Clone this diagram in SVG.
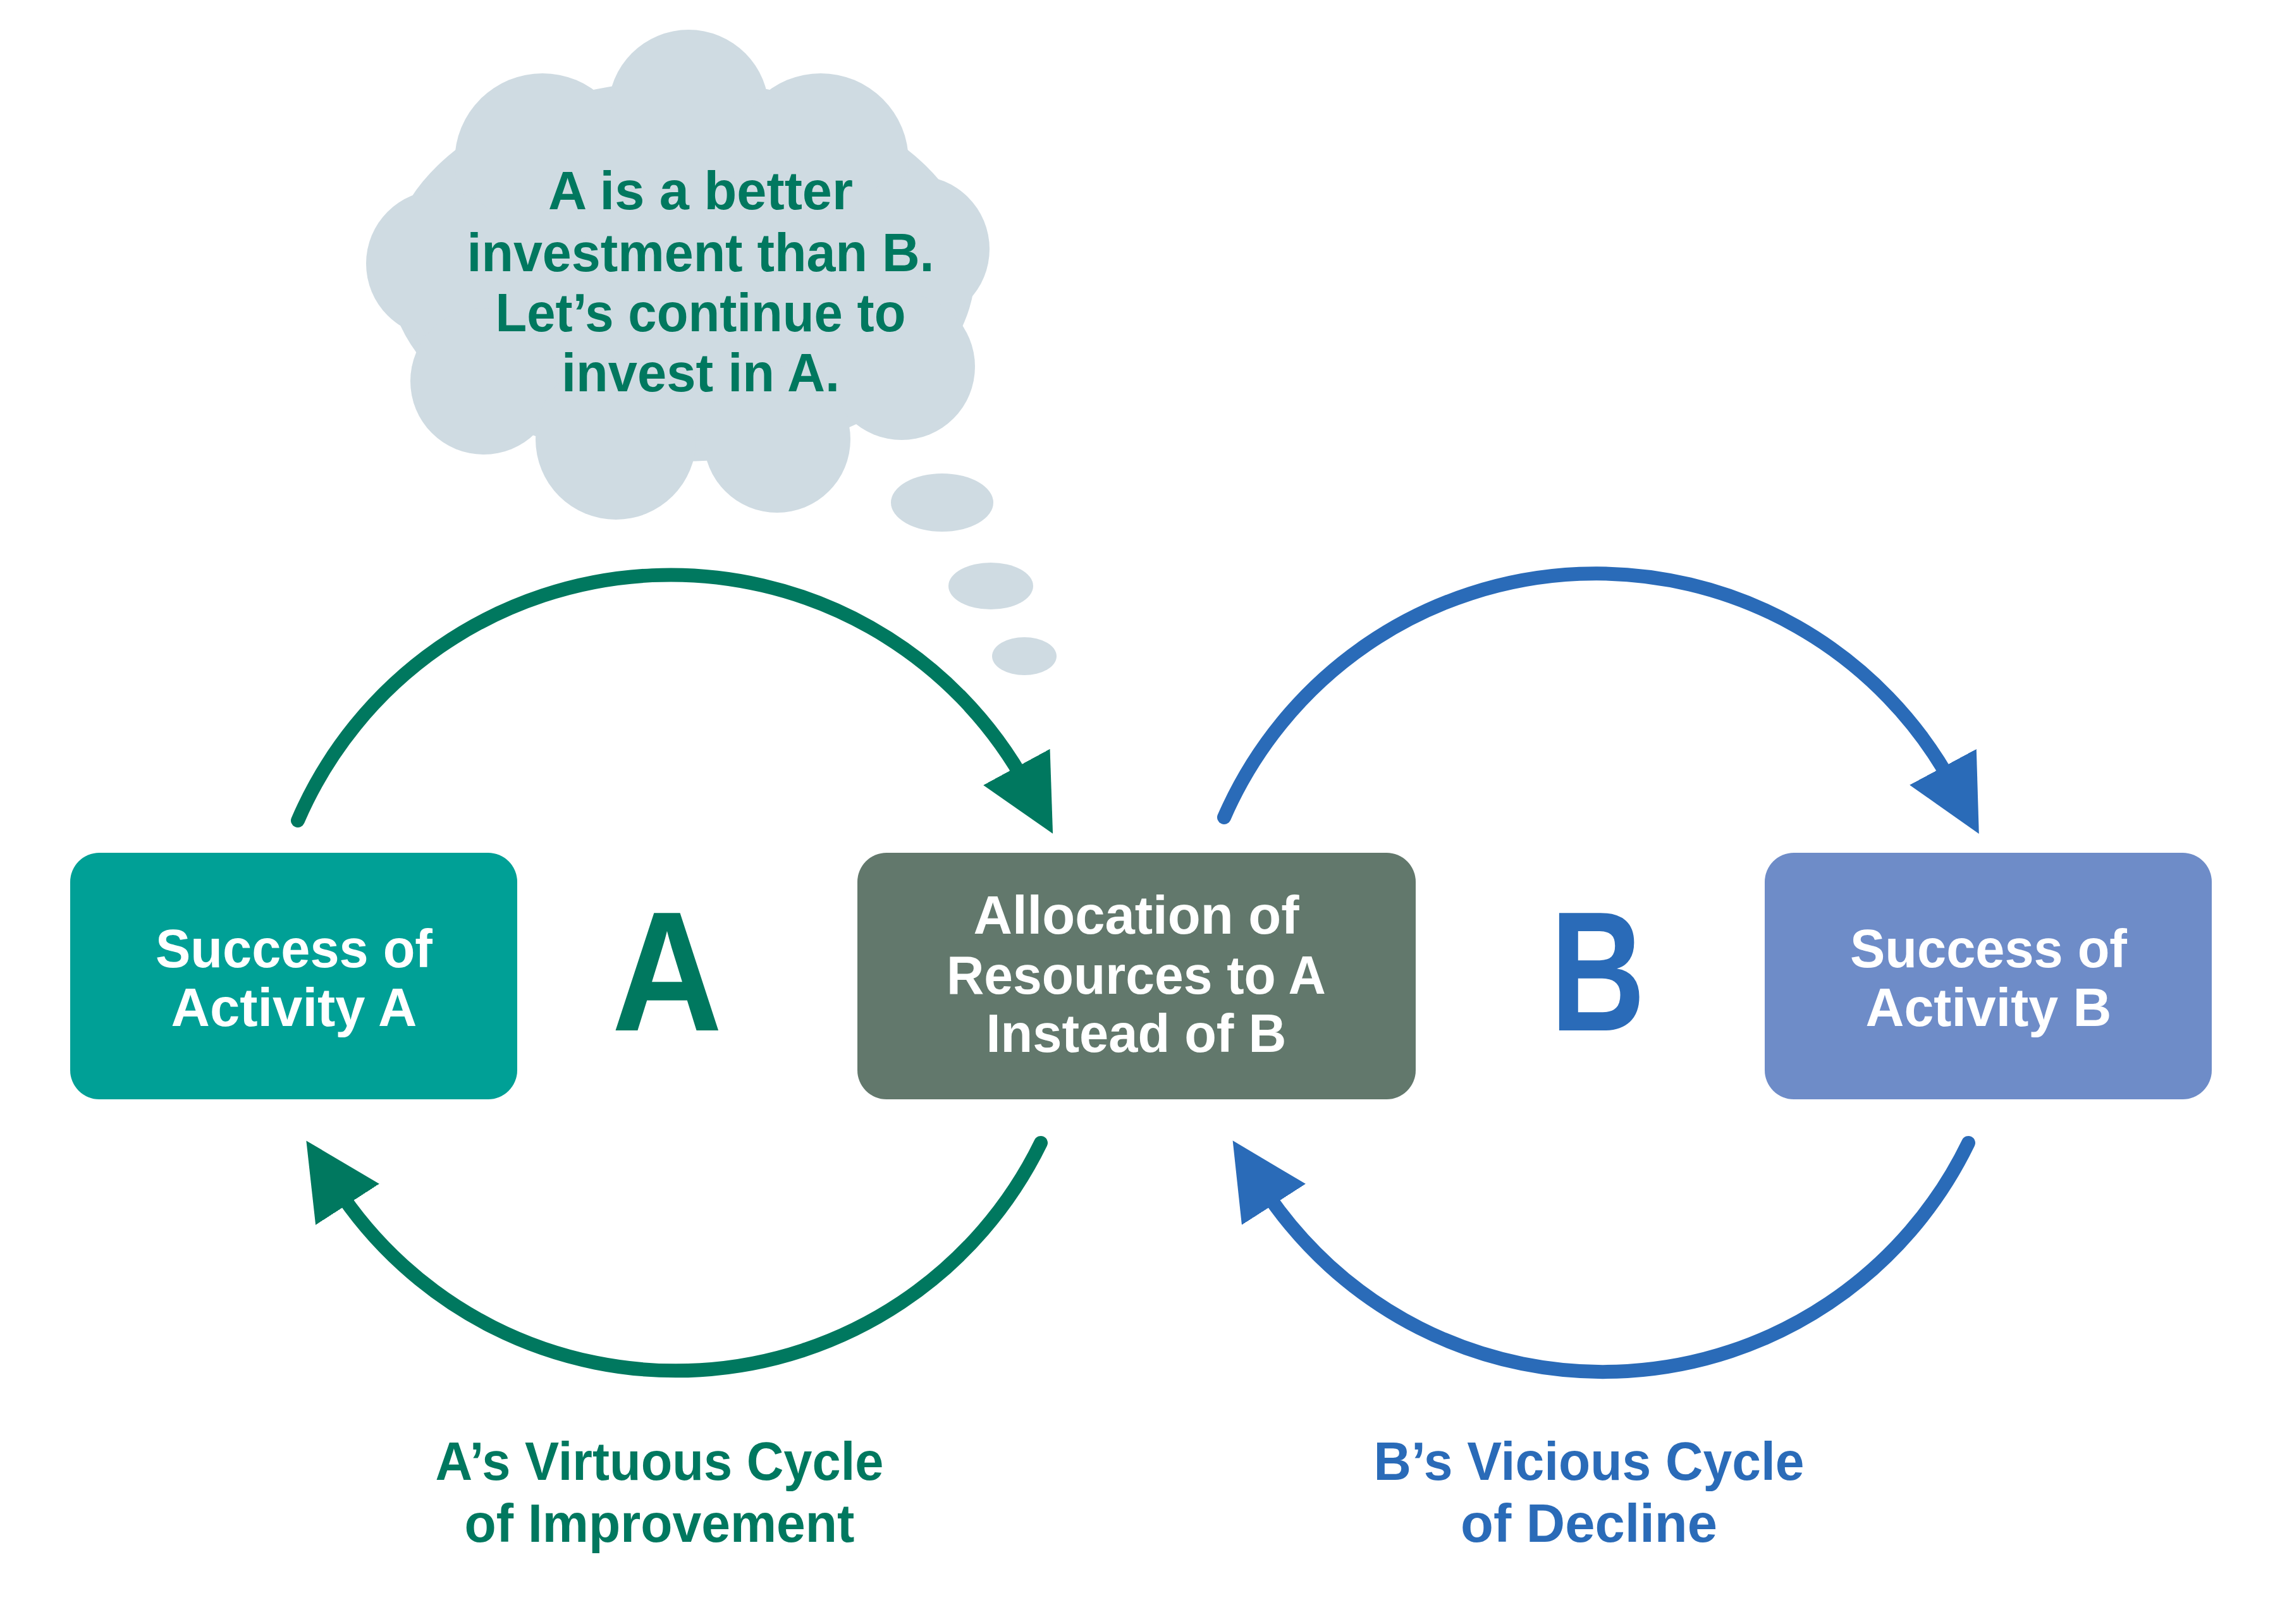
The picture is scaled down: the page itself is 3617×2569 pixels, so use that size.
<svg xmlns="http://www.w3.org/2000/svg" width="3617" height="2569" viewBox="0 0 3617 2569">
<style>
text{font-family:"Liberation Sans",Arial,sans-serif;font-weight:bold;font-size:86px;text-anchor:middle}
.w{fill:#fff}.g{fill:#00785f}.b{fill:#2a6bb8}
.arcG{fill:none;stroke:#00785f;stroke-width:22;stroke-linecap:round;marker-end:url(#mg)}
.arcB{fill:none;stroke:#2a6bb8;stroke-width:22;stroke-linecap:round;marker-end:url(#mb)}
.cloud{fill:#cfdbe2}
</style>
<defs>
<marker id="mg" markerUnits="userSpaceOnUse" markerWidth="120" markerHeight="120" viewBox="0 0 10 10" refX="3" refY="5" orient="auto"><path d="M0,0 L10,5 L0,10 Z" fill="#00785f"/></marker>
<marker id="mb" markerUnits="userSpaceOnUse" markerWidth="120" markerHeight="120" viewBox="0 0 10 10" refX="3" refY="5" orient="auto"><path d="M0,0 L10,5 L0,10 Z" fill="#2a6bb8"/></marker>
</defs>
<rect width="3617" height="2569" fill="#fff"/>
<g id="cloud">
<ellipse class="cloud" cx="1078" cy="429" rx="464" ry="301"/>
<circle class="cloud" cx="1089" cy="174" r="127"/><circle class="cloud" cx="858" cy="255" r="139"/><circle class="cloud" cx="1298" cy="255" r="139"/><circle class="cloud" cx="695" cy="417" r="116"/><circle class="cloud" cx="1449" cy="394" r="116"/><circle class="cloud" cx="765" cy="603" r="116"/><circle class="cloud" cx="1426" cy="580" r="116"/><circle class="cloud" cx="974" cy="695" r="127"/><circle class="cloud" cx="1229" cy="695" r="116"/>
<ellipse class="cloud" cx="1490" cy="795" rx="81" ry="46"/><ellipse class="cloud" cx="1567" cy="927" rx="67" ry="37"/><ellipse class="cloud" cx="1620" cy="1038" rx="51" ry="30"/>
<text class="g" x="1108" y="331" textLength="482" lengthAdjust="spacingAndGlyphs">A is a better</text>
<text class="g" x="1108" y="429" textLength="739" lengthAdjust="spacingAndGlyphs">investment than B.</text>
<text class="g" x="1108" y="524" textLength="649" lengthAdjust="spacingAndGlyphs">Let’s continue to</text>
<text class="g" x="1108" y="619" textLength="440" lengthAdjust="spacingAndGlyphs">invest in A.</text>
</g>
<g id="connectors">
<path class="arcG" d="M471 1298 A642 642 0 0 1 1625 1245"/>
<path class="arcG" d="M1646 1808 A642 642 0 0 1 530 1875"/>
<path class="arcB" d="M1936 1293 A642 642 0 0 1 3090 1245"/>
<path class="arcB" d="M3113 1808 A642 642 0 0 1 1995 1875"/>
</g>
<g id="nodeA">
<rect x="111" y="1349" width="707" height="390" rx="46" fill="#00a096"/>
<text class="w" x="465" y="1530" textLength="438" lengthAdjust="spacingAndGlyphs">Success of</text>
<text class="w" x="465" y="1623" textLength="389" lengthAdjust="spacingAndGlyphs">Activity A</text>
</g>
<g id="nodeMid">
<rect x="1356" y="1349" width="883" height="390" rx="46" fill="#62786c"/>
<text class="w" x="1797" y="1477" textLength="515" lengthAdjust="spacingAndGlyphs">Allocation of</text>
<text class="w" x="1797" y="1572" textLength="600" lengthAdjust="spacingAndGlyphs">Resources to A</text>
<text class="w" x="1797" y="1664" textLength="475" lengthAdjust="spacingAndGlyphs">Instead of B</text>
</g>
<g id="nodeB">
<rect x="2791" y="1349" width="707" height="390" rx="46" fill="#6e8cc8"/>
<text class="w" x="3145" y="1530" textLength="438" lengthAdjust="spacingAndGlyphs">Success of</text>
<text class="w" x="3145" y="1623" textLength="389" lengthAdjust="spacingAndGlyphs">Activity B</text>
</g>
<g id="labels">
<text class="g" x="1055" y="1630" style="font-size:270px" textLength="175" lengthAdjust="spacingAndGlyphs">A</text>
<text class="b" x="2527" y="1630" style="font-size:270px" textLength="150" lengthAdjust="spacingAndGlyphs">B</text>
<text class="g" x="1043" y="2341" textLength="709" lengthAdjust="spacingAndGlyphs">A’s Virtuous Cycle</text>
<text class="g" x="1043" y="2439" textLength="617" lengthAdjust="spacingAndGlyphs">of Improvement</text>
<text class="b" x="2513" y="2341" textLength="681" lengthAdjust="spacingAndGlyphs">B’s Vicious Cycle</text>
<text class="b" x="2513" y="2439" textLength="406" lengthAdjust="spacingAndGlyphs">of Decline</text>
</g>
</svg>
